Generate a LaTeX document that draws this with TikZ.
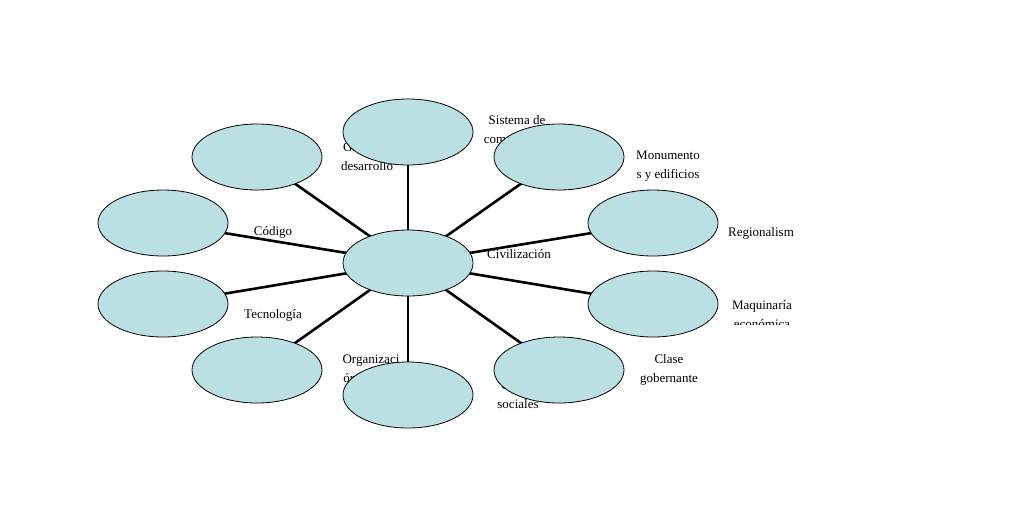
\documentclass[tikz,border=0pt]{standalone}
\usepackage{fontspec}
\usetikzlibrary{shapes.geometric}
\setmainfont{Liberation Serif}
\definecolor{cyanfill}{HTML}{BAE0E4}
\begin{document}
\begin{tikzpicture}[x=1pt,y=-1pt,
  bub/.style={draw=black,line width=0.8pt,fill=cyanfill,ellipse,minimum width=130pt,minimum height=66pt,inner sep=0pt},
  lab/.style={font=\fontsize{13}{19}\selectfont,align=center,inner sep=0pt},
  conn/.style={line width=2.6pt}]
\useasboundingbox (0,0) rectangle (1036,528);
\coordinate (c0) at (408,263);
\coordinate (p1) at (408,132);
\coordinate (p2) at (257,157);
\coordinate (p3) at (559,157);
\coordinate (p4) at (163,223);
\coordinate (p5) at (653,223);
\coordinate (p6) at (163,304);
\coordinate (p7) at (653,304);
\coordinate (p8) at (257,370);
\coordinate (p9) at (559,370);
\coordinate (p10) at (408,395);
% labels
\node[lab] (l1) at (517,130) {Sistema de\\comunicació};
\node[lab] (l2) at (367,157) {Grado de\\desarrollo};
\begin{scope}
\clip (600,140) rectangle (720,180);
\node[lab] (l3) at (668,166) {Monumento\\s y edificios};
\end{scope}
\node[lab] (l4) at (273,232) {Código};
\node[lab] (l5) at (519,254) {Civilización};
\node[lab] (l6) at (761,233) {Regionalism};
\node[lab] (l7) at (273,315) {Tecnología};
\begin{scope}
\clip (715,290) rectangle (810,324);
\node[lab] (l8) at (762,315) {Maquinaría\\económica};
\end{scope}
\node[lab] (l9) at (371,370) {Organizaci\\ón política};
\node[lab] (l10) at (669,370) {Clase\\gobernante};
\node[lab] (l11) at (518,395) {Clases\\sociales};
% connectors
\foreach \i in {1,...,10} \draw[conn] (c0) -- (p\i);
% bubbles
\node[bub] (b0) at (c0) {};
\foreach \i in {1,...,10} \node[bub] (b\i) at (p\i) {};
\end{tikzpicture}
\end{document}
